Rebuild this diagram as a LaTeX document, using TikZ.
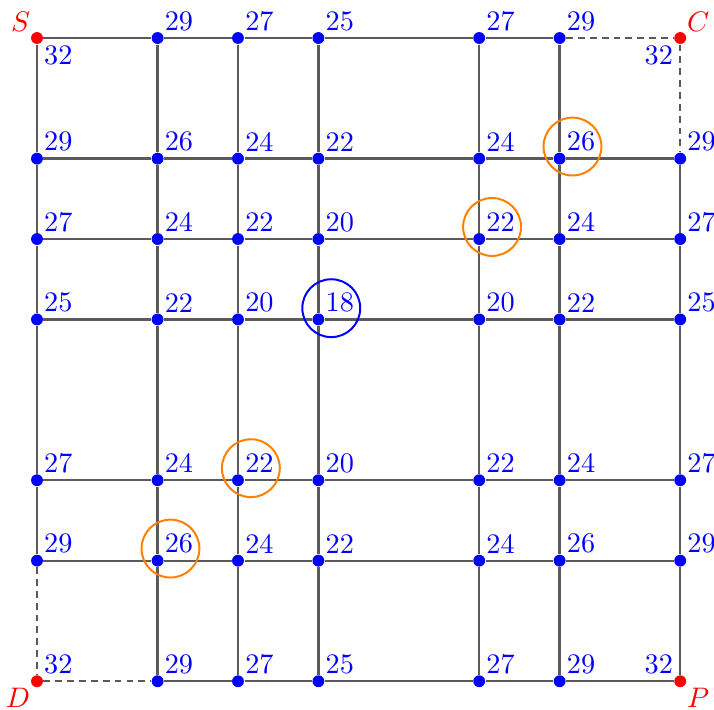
\documentclass[tikz,border=0pt]{standalone}
\usepackage{amsmath}
\usepackage{tikz}
\definecolor{edgegray}{HTML}{5A5A5A}

\begin{document}
\begin{tikzpicture}[
  vtx/.style={circle,fill=blue,inner sep=0pt,minimum size=4.2pt},
  corner/.style={vtx,fill=red},
  num/.style={text=blue,inner sep=0.6pt,label distance=0.2pt},
  tag/.style={text=red,inner sep=0.6pt},
  seg/.style={draw=edgegray,line width=0.8pt},
  gap/.style={seg,dash pattern=on 2.4pt off 1.8pt},
  ring/.style={line width=0.7pt}]
\useasboundingbox (-0.46,-0.348) rectangle (8.42,8.473);
% grid points
\foreach \y [count=\r] in {8,6.5,5.5,4.5,2.5,1.5,0}
  \foreach \x [count=\c] in {0,1.5,2.5,3.5,5.5,6.5,8}
    \coordinate (p-\r-\c) at (\x,\y);
% inner vertices with their values
\foreach \vals [count=\r] in {{32,29,27,25,27,29,32},{29,26,24,22,24,26,29},
    {27,24,22,20,22,24,27},{25,22,20,18,20,22,25},{27,24,22,20,22,24,27},
    {29,26,24,22,24,26,29},{32,29,27,25,27,29,32}}
  \foreach \v [count=\c] in \vals {
    \pgfmathtruncatemacro\iscorner{((\r==1)+(\r==7))*((\c==1)+(\c==7))}
    \ifnum\iscorner=0
      \node[vtx,label={[num]above right:\v}] (n-\r-\c) at (p-\r-\c) {};
    \fi
  }
% the four corners
\node[corner,label={[num]below right:32},label={[tag]above left:$S$}] (n-1-1) at (p-1-1) {};
\node[corner,label={[num]below left:32},label={[tag]above right:$C$}] (n-1-7) at (p-1-7) {};
\node[corner,label={[num]above right:32},label={[tag]below left:$D$}] (n-7-1) at (p-7-1) {};
\node[corner,label={[num]above left:32},label={[tag]below right:$P$}] (n-7-7) at (p-7-7) {};
% edges, the four next to C and D are dashed
\foreach \r in {1,...,7}
  \foreach \c in {1,...,6} {
    \pgfmathtruncatemacro\d{\c+1}
    \def\st{seg}
    \ifnum\r=1 \ifnum\c=6 \def\st{gap}\fi\fi
    \ifnum\r=7 \ifnum\c=1 \def\st{gap}\fi\fi
    \draw[\st] (n-\r-\c) -- (n-\r-\d);
    \draw[\st] (n-\c-\r) -- (n-\d-\r);
  }
% marked values
\draw[ring,blue] ([shift={(0.16,0.14)}]n-4-4.center) circle (0.36);
\foreach \m in {n-2-6,n-3-5,n-5-3,n-6-2}
  \draw[ring,orange] ([shift={(0.16,0.15)}]\m.center) circle (0.36);
\end{tikzpicture}
\end{document}
